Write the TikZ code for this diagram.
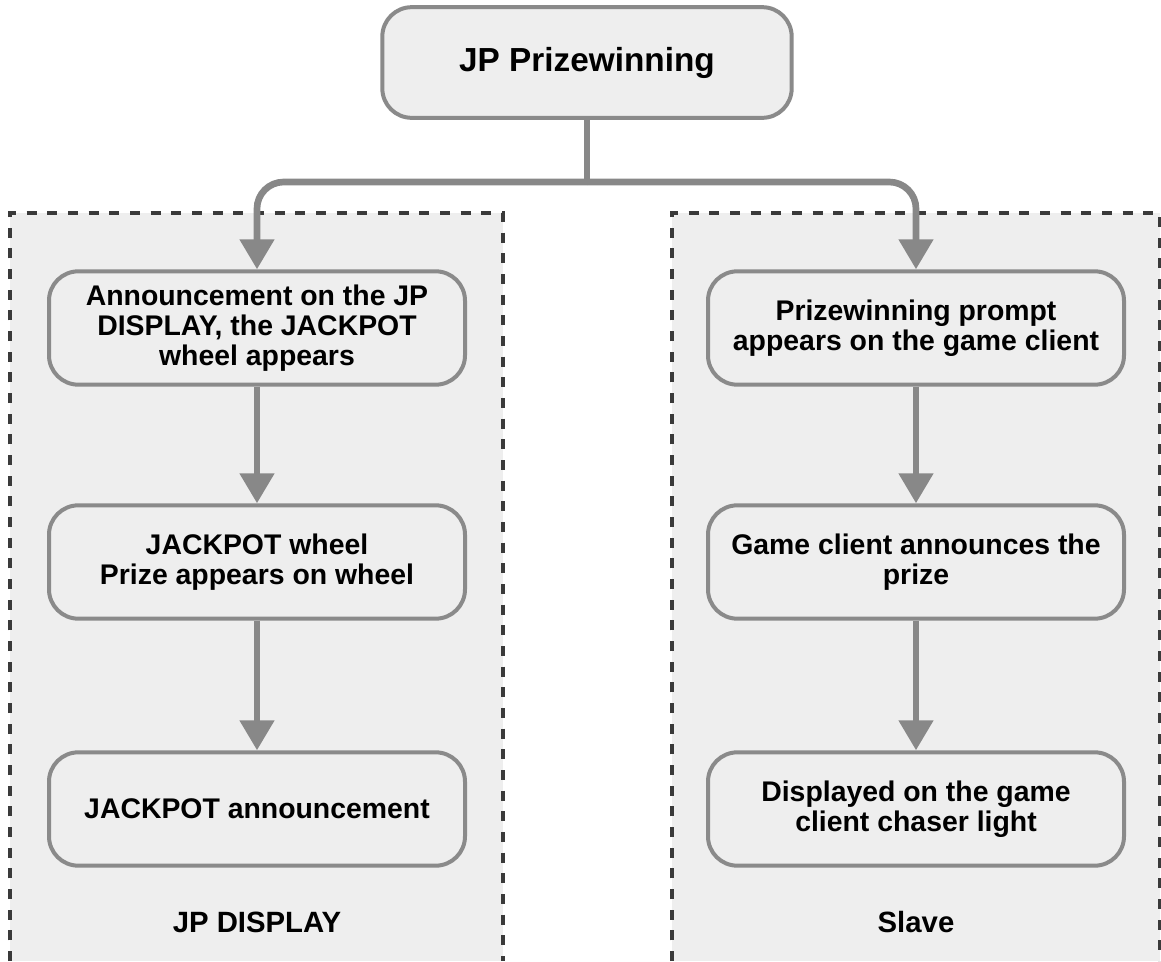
\documentclass[tikz,border=0pt]{standalone}
\usepackage{fontspec}
\setmainfont{Liberation Sans}
\usepackage{xcolor}
\usepackage{tikz}
\usetikzlibrary{arrows.meta}
\definecolor{panel}{HTML}{EEEEEE}
\definecolor{edge}{HTML}{8A8A8A}
\definecolor{flowc}{HTML}{888888}
\definecolor{dash}{HTML}{3A3A3A}
\tikzset{
  panelbox/.style={draw=dash, line width=3pt, dash pattern=on 7.5pt off 8pt},
  stage/.style={draw=edge, fill=panel, line width=3pt, rounded corners=22pt,
    minimum width=312pt, minimum height=85pt, align=center, inner sep=0pt,
    font=\fontsize{21.3}{22.5}\selectfont\bfseries},
  head/.style={stage, minimum width=307pt, minimum height=83pt,
    font=\fontsize{25}{28}\selectfont\bfseries},
  lane/.style={font=\fontsize{22}{24}\selectfont\bfseries},
  wire/.style={draw=flowc, line width=5pt},
  flow/.style={wire, -{Triangle[length=22.5pt,width=25pt]}},
}
\begin{document}
\begin{tikzpicture}[x=0.75pt, y=-0.75pt]
  \useasboundingbox (0,0) rectangle (1161,961);
  % the two lanes, open at the bottom
  \fill[panel] (10,213) rectangle (503,961);
  \fill[panel] (672,213) rectangle (1160,961);
  \draw[panelbox] (10,961) -- (10,213) -- (503,213) -- (503,961);
  \draw[panelbox] (672,961) -- (672,213) -- (1160,213) -- (1160,961);

  \node[head] (prize) at (587,62.5) {JP Prizewinning};
  \coordinate (split) at (587,182);

  \node[stage] (disp1) at (257,328) {Announcement on the JP\\DISPLAY, the JACKPOT\\wheel appears};
  \node[stage] (disp2) at (257,562) {JACKPOT wheel\\Prize appears on wheel};
  \node[stage] (disp3) at (257,809) {JACKPOT announcement};
  \node[lane] (displab) at (257,922) {JP DISPLAY};

  \node[stage] (slave1) at (916,328) {Prizewinning prompt\\appears on the game client};
  \node[stage] (slave2) at (916,562) {Game client announces the\\prize};
  \node[stage] (slave3) at (916,809) {Displayed on the game\\client chaser light};
  \node[lane] (slavelab) at (916,922) {Slave};

  \draw[wire] (prize.south) -- (split);
  \draw[flow, rounded corners=20pt] (split) -| (disp1.north);
  \draw[flow, rounded corners=20pt] (split) -| (slave1.north);
  \draw[flow] (disp1) -- (disp2);
  \draw[flow] (disp2) -- (disp3);
  \draw[flow] (slave1) -- (slave2);
  \draw[flow] (slave2) -- (slave3);
\end{tikzpicture}
\end{document}
